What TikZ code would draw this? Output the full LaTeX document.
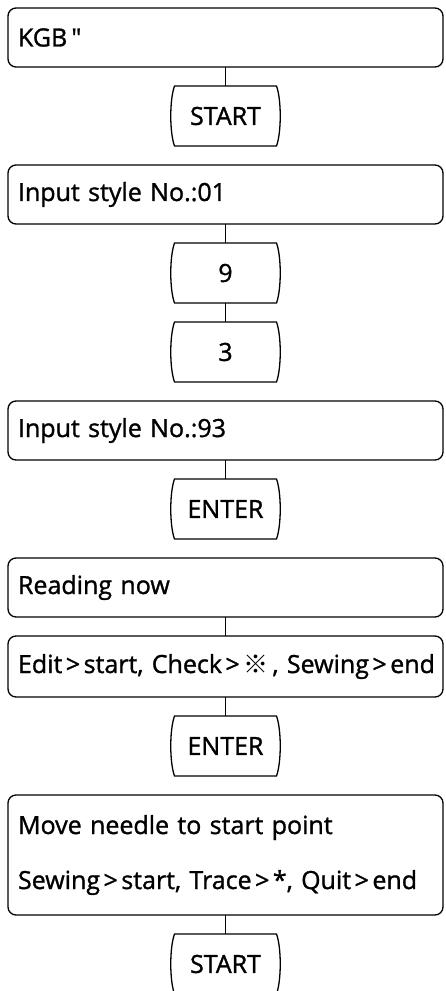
\documentclass[tikz,border=0pt]{standalone}
\usepackage{fontspec}
\setmainfont{Open Sans}[FakeBold=1.2]
\newfontfamily\cjk{Noto Sans CJK JP}
\usepackage{tikz}
\usetikzlibrary{positioning}
\newcommand\gtsign{\kern3.5pt\textgreater\kern3.5pt}

\begin{document}
\begin{tikzpicture}[x=1pt, y=-1pt, node distance=19pt, line width=1.3pt,
    every node/.style={font=\fontsize{25}{55}\selectfont, outer sep=0pt},
    screen/.style={draw, rounded corners=8pt, minimum width=435pt, minimum height=59pt, text width=415pt, inner xsep=10pt, align=left},
    keybox/.style={minimum width=102pt, minimum height=60pt, inner sep=0pt}]
    \useasboundingbox (0,0) rectangle (445,991);
    \node[screen] (kgb) at (225.5,37.5) {KGB\,\textquotedbl};
    \node[keybox, below=of kgb] (start1) {START};
    \node[screen, below=of start1] (style1) {Input style No.:01};
    \node[keybox, below=of style1] (nine) {9};
    \node[keybox, below=of nine] (three) {3};
    \node[screen, below=of three] (style2) {Input style No.:93};
    \node[keybox, below=of style2] (enter1) {ENTER};
    \node[screen, below=of enter1] (reading) {Reading now};
    \node[screen, minimum height=61pt, below=of reading] (edit) {\mbox{Edit\gtsign start, Check\gtsign{\cjk ※}\,, Sewing\gtsign end}};
    \node[keybox, below=of edit] (enter2) {ENTER};
    \node[screen, minimum height=120pt, below=of enter2] (move) {Move needle to start point\\Sewing\gtsign start, Trace\gtsign *, Quit\gtsign end};
    \node[keybox, below=of move] (start2) {START};
    % key outlines
    \foreach \k in {start1, nine, three, enter1, enter2, start2}
        \draw (\k.north west) -- (\k.north east) .. controls +(5,14) and +(5,-14) .. (\k.south east)
            -- (\k.south west) .. controls +(-5,-14) and +(-5,14) .. (\k.north west) -- cycle;
    \draw (kgb) -- (start1);
    \draw (style1) -- (nine);
    \draw (nine) -- (three);
    \draw (style2) -- (enter1);
    \draw (reading) -- (edit);
    \draw (edit) -- (enter2);
    \draw (move) -- (start2);
\end{tikzpicture}
\end{document}
